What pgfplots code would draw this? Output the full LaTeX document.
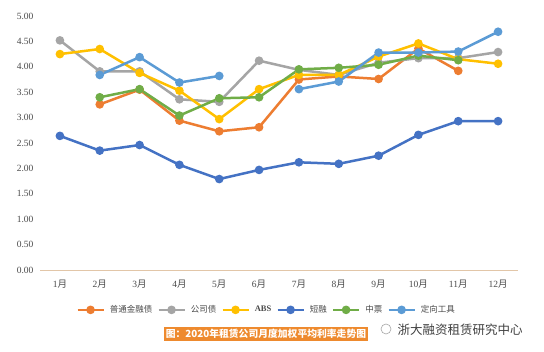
\documentclass[border=0pt]{standalone}
\usepackage{pgfplots}
\pgfplotsset{compat=1.18}
\usepackage{pgfplotstable}
\usepackage{fontspec}
\setmainfont{Liberation Serif}
\newfontfamily\cjk{Noto Sans CJK SC}
\definecolor{cJR}{HTML}{ED7D31}
\definecolor{cGS}{HTML}{A5A5A5}
\definecolor{cABS}{HTML}{FFC000}
\definecolor{cDR}{HTML}{4472C4}
\definecolor{cZP}{HTML}{70AD47}
\definecolor{cDX}{HTML}{5B9BD5}
\definecolor{cAxis}{HTML}{E2C6A8}
\definecolor{cTxt}{HTML}{4A4A4A}
\definecolor{cCap}{HTML}{EE8A2E}
\newcommand\yue{{\cjk 月}}
\pgfplotstableread{
m jr gs abs dr zp dx
1 nan 4.52 4.25 2.64 nan nan
2 3.26 3.91 4.35 2.35 3.40 3.84
3 3.55 3.91 3.88 2.46 3.56 4.19
4 2.94 3.36 3.53 2.07 3.04 3.69
5 2.73 3.31 2.97 1.79 3.38 3.82
6 2.81 4.12 3.56 1.97 3.40 nan
7 3.75 3.94 3.84 2.12 3.95 3.56
8 3.81 3.84 3.84 2.09 3.98 3.71
9 3.76 4.08 4.20 2.25 4.04 4.28
10 4.36 4.17 4.46 2.66 4.22 4.28
11 3.92 4.17 4.15 2.93 4.13 4.30
12 nan 4.29 4.06 2.93 nan 4.69
}\data
\begin{document}
\begin{tikzpicture}
\path[use as bounding box, fill=white] (0pt,0pt) rectangle (544pt,352pt);
\begin{axis}[
  at={(40pt,82pt)}, anchor=south west,
  scale only axis, width=478pt, height=254pt,
  xmin=0.5, xmax=12.5, ymin=0, ymax=5,
  xtick={1,...,12},
  xticklabels={1\yue,2\yue,3\yue,4\yue,5\yue,6\yue,7\yue,8\yue,9\yue,10\yue,11\yue,12\yue},
  ytick={0,0.5,...,5},
  /pgf/number format/fixed, /pgf/number format/fixed zerofill, /pgf/number format/precision=2,
  /pgf/number format/assume math mode=true,
  tick label style={font=\fontsize{9.5}{10}\selectfont, text=cTxt},
  xticklabel style={yshift=-6pt},
  yticklabel style={xshift=-3pt},
  major tick length=0pt,
  axis x line*=bottom, axis y line*=left,
  x axis line style={draw=cAxis, line width=0.8pt, -},
  y axis line style={draw=none},
  unbounded coords=jump,
  every axis plot/.append style={line width=2.5pt, mark=*, mark size=3pt, mark options={solid}},
  legend columns=6,
  legend style={at={(axis description cs:0.474,-0.157)}, anchor=center, draw=none, fill=none,
    font=\cjk\fontsize{8.5}{9}\selectfont, text=cTxt, column sep=3pt},
  legend image code/.code={\draw[mark repeat=2,mark phase=2,#1] plot coordinates {(0pt,0pt) (13pt,0pt) (26pt,0pt)};},
]
\addplot[color=cJR] table[x=m,y=jr]{\data};
\addlegendentry{普通金融债}
\addplot[color=cGS] table[x=m,y=gs]{\data};
\addlegendentry{公司债}
\addplot[color=cABS] table[x=m,y=abs]{\data};
\addlegendentry{\fontspec{Liberation Serif}\bfseries ABS}
\addplot[color=cDR] table[x=m,y=dr]{\data};
\addlegendentry{短融}
\addplot[color=cZP] table[x=m,y=zp]{\data};
\addlegendentry{中票}
\addplot[color=cDX] table[x=m,y=dx]{\data};
\addlegendentry{定向工具}
\end{axis}
\node[fill=cCap, text=white, font=\cjk\fontsize{9.8}{11}\selectfont\bfseries, inner xsep=2pt, inner ysep=2pt] at (266pt,18pt) {图：2020年租赁公司月度加权平均利率走势图};
\node[text=black!75, font=\cjk\fontsize{12.5}{14}\selectfont, anchor=west] at (394pt,22pt) {浙大融资租赁研究中心};
\draw[black!35, line width=0.6pt] (386pt,23pt) circle (5pt);
\end{tikzpicture}
\end{document}
